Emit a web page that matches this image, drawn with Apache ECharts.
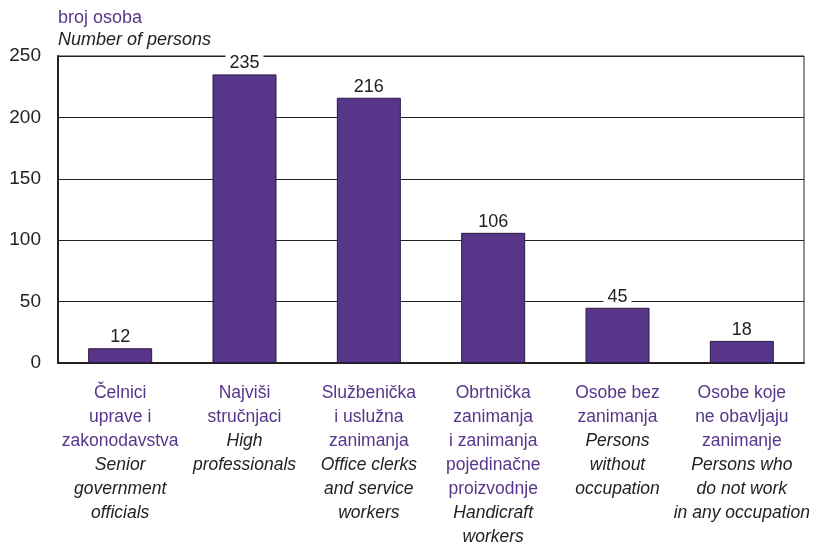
<!DOCTYPE html>
<html lang="hr">
<head>
    <meta charset="UTF-8">
    <title>broj osoba</title>
    <script src="https://cdn.jsdelivr.net/npm/echarts@6/dist/echarts.min.js"></script>
    <style>
        *{ margin: 0; padding: 0; }
        html,body{ width: 100%; height: 100%; background: #fff; }
        .container{ width: 816px; height: 547px; }
    </style>
</head>
<body>
<div class="container"></div>
<script>
    // hrvatski / engleski nazivi kategorija
    let labelsHr = [
        ['Čelnici', 'uprave i', 'zakonodavstva'],
        ['Najviši', 'stručnjaci'],
        ['Službenička', 'i uslužna', 'zanimanja'],
        ['Obrtnička', 'zanimanja', 'i zanimanja', 'pojedinačne', 'proizvodnje'],
        ['Osobe bez', 'zanimanja'],
        ['Osobe koje', 'ne obavljaju', 'zanimanje']
    ];
    let labelsEn = [
        ['Senior', 'government', 'officials'],
        ['High', 'professionals'],
        ['Office clerks', 'and service', 'workers'],
        ['Handicraft', 'workers'],
        ['Persons', 'without', 'occupation'],
        ['Persons who', 'do not work', 'in any occupation']
    ];
    let values = [12, 235, 216, 106, 45, 18];
    let yTicks = [0, 50, 100, 150, 200, 250];

    let categories = labelsHr.map((hr, i) => i + '');
    let purple = '#573689';
    let font = 'Liberation Sans, Arial, sans-serif';

    let chart = echarts.init(document.querySelector('.container'));

    let option = {
        animation: false,
        graphic: [
            { type: 'text', left: 58, top: 9, style: { text: 'broj osoba', fill: purple, font: '18px ' + font } },
            { type: 'text', left: 58, top: 31, style: { text: 'Number of persons', fill: '#222', font: 'italic 18px ' + font } }
        ],
        grid: {
            left: 58, right: 12, top: 56, bottom: 184,
            outerBoundsMode: 'none',
            show: true, borderColor: '#222', borderWidth: 1
        },
        xAxis: {
            type: 'category',
            data: categories,
            axisLine: { lineStyle: { color: '#222', width: 2 } },
            axisTick: { show: false },
            axisLabel: {
                interval: 0,
                margin: 18,
                lineHeight: 24,
                formatter: function (v) {
                    let i = +v;
                    let hr = labelsHr[i].map(s => '{hr|' + s + '}');
                    let en = labelsEn[i].map(s => '{en|' + s + '}');
                    return hr.concat(en).join('\n');
                },
                rich: {
                    hr: { color: purple, fontSize: 17.5, fontFamily: font, lineHeight: 24 },
                    en: { color: '#222', fontSize: 17.5, fontStyle: 'italic', fontFamily: font, lineHeight: 24 }
                }
            }
        },
        yAxis: {
            type: 'value',
            min: 0, max: 250, interval: 50,
            axisLine: { show: true, lineStyle: { color: '#222', width: 2 } },
            axisTick: { show: false },
            splitLine: { lineStyle: { color: '#222', width: 1 } },
            axisLabel: {
                color: '#222', fontSize: 19, fontFamily: font, margin: 17,
                formatter: v => yTicks.includes(v) ? v : ''
            }
        },
        series: [{
            type: 'bar',
            data: values,
            barWidth: 64,
            itemStyle: { color: purple, borderColor: '#2a1a40', borderWidth: 1 },
            label: {
                show: true, position: 'top', distance: 2,
                color: '#222', fontSize: 18, fontFamily: font,
                backgroundColor: '#fff', padding: [1, 4, 0, 4]
            }
        }]
    };
    chart.setOption(option);
</script>
</body>
</html>
